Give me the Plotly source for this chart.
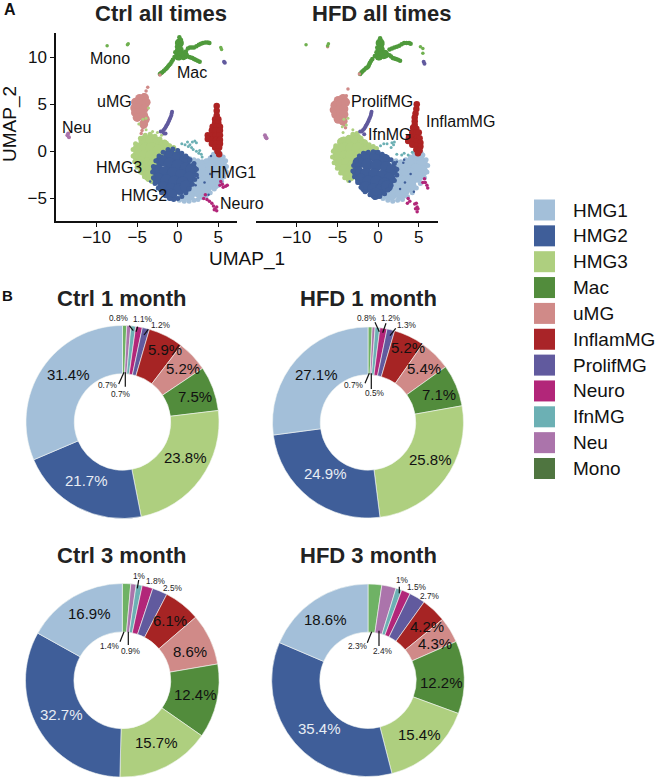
import plotly.graph_objects as go

W, H = 660, 779
FONT = "Liberation Sans"

CATEGORIES = ["HMG1", "HMG2", "HMG3", "Mac", "uMG", "InflamMG", "ProlifMG", "Neuro", "IfnMG", "Neu", "Mono"]
LEGEND_COLORS = ["#a3bfd9", "#3f5e99", "#aecf7f", "#528c3c", "#d08a88", "#a92428", "#615a9e", "#b22679", "#6cb0b4", "#ab74ab", "#4f7540"]
PIE_COLORS = ["#a3bfd9", "#3f5e99", "#aecf7f", "#528c3c", "#d08a88", "#a62424", "#615a9e", "#b22679", "#6cb0b4", "#ab74ab", "#6fb265"]
COLOR = dict(zip(CATEGORIES, PIE_COLORS))

# pie slice order, clockwise from 12 o'clock
PIE_ORDER = ["Mono", "Neu", "IfnMG", "Neuro", "ProlifMG", "InflamMG", "uMG", "Mac", "HMG3", "HMG2", "HMG1"]
CTRL_1M = [0.7, 0.7, 0.8, 1.1, 1.2, 5.9, 5.2, 7.5, 23.8, 21.7, 31.4]
HFD_1M = [0.7, 0.5, 0.8, 1.2, 1.3, 5.2, 5.4, 7.1, 25.8, 24.9, 27.1]
CTRL_3M = [1.4, 0.9, 1, 1.8, 2.5, 6.1, 8.6, 12.4, 15.7, 32.7, 16.9]
HFD_3M = [2.3, 2.4, 1, 1.5, 2.7, 4.2, 4.3, 12.2, 15.4, 35.4, 18.6]

# ---- UMAP points (dense blobs are represented by hand-read sample points) ----
C_HMG1 = [(2, -1.4), (3, -1.7), (4, -1.3), (4.8, -0.6), (5.3, -1.3), (5.4, -2.0), (4.8, -2.0), (4, -2.2), (3, -2.5), (2, -2.5), (5, -2.7), (4.2, -3), (3.2, -3.2), (2.2, -3.4), (4.4, -3.5), (3.4, -4.0), (2.4, -4.2), (1.4, -4.6), (0.7, -4.7), (1.5, -3.5), (2.8, -4.4), (1.2, -2.5)]
C_HMG1_EDGE = [(1.5, -0.8), (2, -0.9), (2.5, -1), (3, -1.1), (3.5, -1), (4, -0.7), (4.4, -0.3), (4.8, -0.1), (5.2, -0.2), (5.6, -0.6), (5.9, -1), (6, -1.6), (6, -2.2), (5.7, -2.7), (5.4, -3.2), (5, -3.6), (4.5, -4), (4, -4.4), (3.5, -4.7), (3, -4.9), (2.5, -5.1), (2, -5.2), (1.4, -5.3), (0.8, -5.3), (0.2, -5.2)]
C_HMG3 = [(-4.1, 1.1), (-3.3, 1.2), (-2.5, 0.9), (-1.7, 0.6), (-0.9, -0.1), (-4.8, 0.3), (-4, 0.3), (-3.2, 0.3), (-2.4, 0.1), (-1.6, -0.2), (-4.9, -0.5), (-4.1, -0.5), (-3.3, -0.5), (-2.5, -0.7), (-4.6, -1.2), (-3.8, -1.3), (-3, -1.4), (-4.1, -2), (-3.3, -2.1), (-3.5, -2.6)]
C_HMG3_EDGE = [(-4.6, 1.4), (-4, 1.7), (-3.4, 1.8), (-2.8, 1.6), (-2.2, 1.3), (-1.6, 1.0), (-1, 0.6), (-0.5, 0.4), (-0.1, 0.1), (-5.2, 0.8), (-5.5, 0.2), (-5.5, -0.5), (-5.3, -1.1), (-5, -1.7), (-4.6, -2.2), (-4.1, -2.7), (-3.6, -3), (-3.2, -3.2)]
C_HMG2 = [(-1, -0.4), (0, -0.6), (0.9, -1), (-2, -1), (-1, -1.3), (0, -1.5), (1, -1.8), (1.7, -1.9), (-2.5, -2), (-1.6, -2.2), (-0.6, -2.3), (0.4, -2.5), (1.4, -2.8), (-2.4, -2.9), (-1.4, -3.1), (-0.4, -3.2), (0.6, -3.3), (-1.8, -3.8), (-0.8, -4), (0.2, -4.0), (1, -3.7), (-0.8, -4.6)]
C_HMG2_EDGE = [(-1.2, 0.2), (-0.6, 0.25), (0, 0.1), (0.5, -0.2), (1, -0.5), (1.5, -0.9), (2, -1.3), (2.3, -1.9), (2.3, -2.5), (2.1, -3), (1.8, -3.5), (1.4, -4), (1, -4.4), (0.5, -4.8), (0, -5), (-0.5, -5.1), (-1, -5), (-1.5, -4.7), (-2, -4.4), (-2.4, -3.9), (-2.8, -3.4), (-3, -2.8), (-3.1, -2.2), (-3, -1.6), (-2.7, -1), (-2.3, -0.5), (-1.8, -0.1)]
C_MAC_CORE = [(0.2, 11.5), (0.2, 10.7), (0.1, 10.1), (0.8, 10.2)]
C_MAC = [(0.2, 12.1), (0.4, 11.8), (0, 11.6), (0.4, 11.3), (-0.1, 11.1), (0.3, 10.9), (-0.3, 10.5), (0.2, 10.4), (0.7, 10.3), (-0.4, 10), (0.2, 9.9), (0.7, 9.9), (1.1, 10.2), (1.0, 10.6), (1.4, 10.0), (1.8, 9.9), (2.2, 9.7), (2.7, 9.5), (1.5, 11), (2, 11), (2.6, 11.3), (3.1, 11.5), (3.7, 11.55), (3.9, 11.5), (-0.6, 9.7), (-0.9, 9.3), (-1.2, 9), (-1.5, 8.7), (-1.9, 8.4), (-2.2, 8.2), (1.25, 10.9), (1.75, 11), (2.3, 11.15), (2.85, 11.4), (3.4, 11.55), (1.6, 9.95), (2.0, 9.8), (2.45, 9.6), (-0.75, 9.5), (-1.05, 9.15), (-1.35, 8.85), (-1.7, 8.55), (-2.05, 8.3)]
C_UMG = [(-4.1, 5.7), (-4.7, 5.6), (-5.2, 5.2), (-4.5, 5.1), (-3.9, 5.2), (-5.3, 4.6), (-4.7, 4.6), (-4.1, 4.6), (-5.2, 4.1), (-4.6, 4.1), (-5, 3.6), (-4.2, 3.8), (-4, 3.4), (-4.2, 2.9)]
C_UMG_DOTS = [(-3.7, 6.8), (-3.9, 6.4), (-2.2, 8.1), (-4.2, 6), (-4.3, 2.5), (-4.4, 2.2), (-4.5, 1.9), (-4.1, 2.6)]
C_INFLAM = [(4.8, 4.8), (4.8, 4.3), (4.8, 3.8), (4.6, 3.4), (5, 3.4), (4.6, 3), (5, 3), (4.3, 2.6), (4.8, 2.6), (5.2, 2.6), (4.2, 2.2), (4.7, 2.2), (5.2, 2.2), (3.7, 1.7), (4.2, 1.7), (4.7, 1.7), (5.2, 1.7), (3.7, 1.3), (4.2, 1.2), (4.7, 1.2), (5.2, 1.2), (4.2, 0.8), (4.7, 0.8), (5.2, 0.8), (4.6, 0.4), (5.1, 0.4), (4.9, 0), (5.1, -0.3)]
C_PROLIF = [(-0.7, 4.2), (-0.75, 4), (-0.8, 3.8), (-0.9, 3.6), (-1, 3.4), (-1.1, 3.2), (-1.2, 3), (-1.3, 2.85), (-1.4, 2.7), (-1.5, 2.55), (-1.6, 2.4), (-1.75, 2.25), (-1.9, 2.1), (-2.1, 2.1), (-1.5, 1.9), (-1.7, 1.9), (5.8, 9.4), (5.7, 9.5)]
C_NEURO = [(5.3, -3.2), (5.5, -3.5), (5.9, -3.7), (5.6, -3.8), (6.1, -3.6), (5.2, -3.6), (3.2, -5), (3.6, -5.1), (3.9, -5.3), (4.2, -5.5), (4.4, -5.8), (4.6, -6.1), (4.8, -6.3), (4.8, -5.9), (4.5, -6.2), (3.4, -4.6)]
C_IFN = [(0.5, 0.8), (0.9, 0.7), (1.2, 1), (1.5, 0.7), (1.8, 1), (2.1, 1.1), (2.3, 0.9), (1.3, 0.5), (1.7, 0.4), (1.9, 0.2), (2.3, 0), (2.6, -0.2), (2.9, -0.3), (2.7, 0.1), (3, -0.6)]
C_NEU = [(-13.5, 1.9), (-13.4, 1.5), (-13.6, 1.7)]
C_MONO = [(-8.7, 11.2), (-6.2, 11.3), (-6.1, 11.4), (5.3, 11), (5.4, 10.8)]
C_STRAY_GREEN = [(-4.3, 3.4), (-3.9, 3.5), (-3.6, 4.6), (-4.8, 2.9), (-3.9, 2.3), (-3.1, 2.1), (-2.5, 2), (-2, 1.7)]
C_STRAY_BLUE = [(3.3, -3.3), (4, -2.4), (2.2, -3.6), (3.8, -4.6), (4.1, -0.5), (2.5, -2.8), (-3.4, -3.2)]

H_HMG1 = [(2.2, -1.5), (3.2, -1.7), (4.2, -1.1), (5, -0.8), (5.4, -1.4), (5.4, -2.1), (4.6, -1.9), (3.8, -2.3), (3, -2.5), (2.2, -2.5), (4.8, -2.7), (4, -3.1), (3.2, -3.2), (2.4, -3.4), (4, -3.7), (3.3, -4.0), (2.4, -4.3), (1.6, -4.6), (0.8, -4.5), (1.5, -3.7), (2.8, -4.5), (1.2, -2.5), (4.9, -0.3)]
H_HMG1_EDGE = [(2.2, -1), (2.8, -1.1), (3.4, -0.9), (4, -0.6), (4.5, -0.3), (5, -0.1), (5.5, -0.4), (5.9, -0.9), (6.1, -1.5), (6, -2.2), (5.7, -2.8), (5.2, -3.4), (4.7, -3.9), (4.2, -4.4), (3.6, -4.8), (3, -5.1), (2.4, -5.2), (1.8, -5.3), (1.2, -5.2), (0.6, -5)]
H_HMG3 = [(-4.3, 0.9), (-3.5, 1.1), (-2.7, 1.3), (-1.9, 0.7), (-1.1, 0), (-4.9, 0.1), (-4.1, 0.3), (-3.3, 0.3), (-2.5, 0.3), (-1.7, -0.1), (-4.9, -0.6), (-4.1, -0.5), (-3.3, -0.5), (-2.5, -0.6), (-4.6, -1.3), (-3.8, -1.3), (-3, -1.4), (-4.1, -2), (-3.3, -2.1), (-3.5, -2.6)]
H_HMG3_EDGE = [(-4.7, 1.1), (-4.2, 1.3), (-3.6, 1.5), (-3.1, 1.8), (-2.6, 1.9), (-2.1, 1.4), (-1.6, 1), (-1.1, 0.7), (-0.6, 0.5), (-0.2, 0.3), (-5.2, 0.6), (-5.5, 0), (-5.6, -0.6), (-5.4, -1.2), (-5, -1.8), (-4.6, -2.3), (-4.1, -2.8), (-3.6, -3.1)]
H_HMG2 = [(-1.4, -0.6), (-0.3, -0.5), (0.8, -0.9), (-2.4, -1.2), (-1.3, -1.4), (-0.2, -1.5), (1, -1.7), (1.7, -2), (-2.5, -2.2), (-1.5, -2.4), (-0.5, -2.4), (0.5, -2.6), (1.4, -2.9), (-2.1, -3), (-1.2, -3.2), (-0.2, -3.2), (0.8, -3.4), (-1.5, -3.8), (-0.6, -4), (0.3, -4.1), (1.1, -3.7), (-0.3, -4.5)]
H_HMG2_EDGE = [(-2.3, -0.5), (-1.8, -0.2), (-1.2, -0.1), (-0.6, -0.05), (0, -0.1), (0.5, -0.3), (1, -0.6), (1.6, -0.9), (2, -1.3), (2.3, -1.9), (2.3, -2.5), (2, -3.1), (1.6, -3.6), (1.2, -4.1), (0.8, -4.5), (0.2, -4.8), (-0.4, -4.9), (-1, -4.6), (-1.6, -4.3), (-2.1, -3.8), (-2.5, -3.3), (-2.9, -2.7), (-3.1, -2.1), (-3, -1.5), (-2.7, -1)]
H_MAC_CORE = [(0.25, 11.5), (0.25, 10.8), (0.1, 10.1), (0.8, 10.3)]
H_MAC = [(0.25, 12.0), (0.35, 11.7), (0.1, 11.4), (0.5, 11.3), (-0.1, 11), (0.5, 10.9), (-0.2, 10.5), (0.3, 10.4), (0.8, 10.5), (-0.4, 10.1), (0.1, 9.9), (0.7, 10), (1.1, 10.2), (1.4, 10.2), (1.8, 9.9), (2.2, 9.8), (2.7, 9.6), (1.4, 10.8), (2, 11), (2.6, 11.2), (3.2, 11.5), (3.8, 11.5), (4, 11.4), (-0.7, 9.8), (-1, 9.4), (-1.2, 9), (-1.5, 8.8), (-1.9, 8.5), (-2.2, 8.2), (1.7, 10.9), (2.3, 11.1), (2.9, 11.35), (3.5, 11.5), (1.6, 10.05), (2, 9.85), (2.45, 9.7), (-0.85, 9.6), (-1.1, 9.2), (-1.35, 8.9), (-1.7, 8.65), (-2.05, 8.35)]
H_UMG = [(-4.3, 5.6), (-4.9, 5.4), (-5.3, 4.9), (-4.6, 5), (-4, 5.2), (-5.4, 4.4), (-4.8, 4.4), (-4.2, 4.5), (-5.2, 3.9), (-4.6, 3.9), (-4.9, 3.4), (-4.2, 3.9), (-4.3, 3.2)]
H_UMG_DOTS = [(-3.7, 6.6), (-3.9, 5.9), (-2.3, 8.2), (-6.2, 11.1), (-4.2, 2.8), (-4, 2.5)]
H_INFLAM = [(4.75, 5.0), (4.7, 4.5), (4.6, 4), (4.5, 3.6), (4.5, 3.2), (4.5, 2.8), (4.3, 2.5), (4.7, 2.4), (4.2, 2), (4.7, 2), (5, 2), (3.8, 1.5), (4.3, 1.5), (4.8, 1.5), (5.1, 1.4), (3.7, 1.1), (4.2, 1.1), (4.7, 1), (5.2, 0.9), (4.2, 0.7), (4.7, 0.6), (5.2, 0.5), (4.7, 0.2), (5.1, 0.1), (4.9, -0.2)]
H_PROLIF = [(-0.8, 4.2), (-0.85, 4), (-0.9, 3.8), (-1, 3.6), (-1.1, 3.4), (-1.2, 3.2), (-1.3, 3), (-1.4, 2.85), (-1.5, 2.7), (-1.6, 2.55), (-1.7, 2.4), (-1.85, 2.25), (-2, 2.1), (-2.2, 2.1), (-1.7, 1.8), (5.6, 9.5), (5.7, 9.3)]
H_NEURO = [(5.7, -2.9), (5.8, -3.3), (6, -3.6), (5.5, -3.3), (6.1, -3.9), (3.7, -5), (3.9, -5.3), (3.6, -5.5), (4.7, -5.5), (4.8, -5.9), (4.6, -6.1), (4.8, -6.4), (4.9, -6.1), (4.5, -5.6)]
H_IFN = [(0.3, 0.6), (0.7, 0.8), (1.1, 0.8), (1.7, 0.9), (1.9, 0.7), (2, 1), (1.6, 0.4), (2.3, -0.3), (2.9, -0.4), (3.2, -0.2), (3.7, -0.4), (4.2, -0.1)]
H_NEU = [(-13.9, 1.7), (-13.7, 1.4), (-13.8, 1.5)]
H_MONO = [(-8.85, 11.3), (-6.1, 11.4), (-6.2, 11.2), (5.2, 11.1), (5.5, 10.4), (5.5, 10.9)]
H_STRAY_GREEN = [(-4.2, 3.4), (-3.7, 3.5), (-4.4, 2.6), (-3.9, 2.8), (-4.3, 2), (-3.1, 2.3), (-2.6, 1.8)]
H_STRAY_BLUE = [(3.1, -1.2), (2.3, -1.1), (3.3, -3.3), (4, -2.4), (2.7, -4), (3.2, -0.9), (4.4, -4.3), (-3.5, -3.2)]

# ---- layout helpers (pixels of the 660x779 page -> paper fractions) ----
def px(x):
    return x / W
def py(y):
    return 1 - y / H

X_RANGE = [-15.0, 7.3]
Y_RANGE = [-7.39, 12.55]

fig = go.Figure()

def add_pts(panel, pts, color, size, name):
    xs = [p[0] for p in pts]
    ys = [p[1] for p in pts]
    fig.add_trace(go.Scatter(x=xs, y=ys, mode="markers", name=name, showlegend=False,
                             xaxis="x" if panel == 0 else "x2", yaxis="y" if panel == 0 else "y2",
                             marker=dict(color=color, size=size, line=dict(width=0))))

def add_panel(panel, d):
    add_pts(panel, d["HMG1"], COLOR["HMG1"], 12, "HMG1")
    add_pts(panel, d["HMG1e"], COLOR["HMG1"], 5, "HMG1")
    add_pts(panel, d["HMG3"], COLOR["HMG3"], 12, "HMG3")
    add_pts(panel, d["HMG3e"], COLOR["HMG3"], 5, "HMG3")
    add_pts(panel, d["HMG2"], COLOR["HMG2"], 12, "HMG2")
    add_pts(panel, d["HMG2e"], COLOR["HMG2"], 5, "HMG2")
    add_pts(panel, d["Macc"], "#4f9a3c", 9, "Mac")
    add_pts(panel, d["Mac"], "#4f9a3c", 4.5, "Mac")
    add_pts(panel, d["uMG"], COLOR["uMG"], 9, "uMG")
    add_pts(panel, d["uMG2"], COLOR["uMG"], 3.5, "uMG")
    add_pts(panel, d["Inflam"], "#ad2323", 6.5, "InflamMG")
    add_pts(panel, d["Prolif"], COLOR["ProlifMG"], 4, "ProlifMG")
    add_pts(panel, d["Neuro"], COLOR["Neuro"], 3.5, "Neuro")
    add_pts(panel, d["Ifn"], COLOR["IfnMG"], 3, "IfnMG")
    add_pts(panel, d["Neu"], COLOR["Neu"], 4, "Neu")
    add_pts(panel, d["Mono"], "#6fb04f", 3.5, "Mono")
    add_pts(panel, d["gd"], COLOR["HMG3"], 3, "HMG3")
    add_pts(panel, d["bd"], COLOR["HMG2"], 2.5, "HMG2")

add_panel(0, dict(HMG1=C_HMG1, HMG1e=C_HMG1_EDGE, HMG3=C_HMG3, HMG3e=C_HMG3_EDGE, HMG2=C_HMG2, HMG2e=C_HMG2_EDGE,
                  Macc=C_MAC_CORE, Mac=C_MAC, uMG=C_UMG, uMG2=C_UMG_DOTS, Inflam=C_INFLAM,
                  Prolif=C_PROLIF, Neuro=C_NEURO, Ifn=C_IFN, Neu=C_NEU, Mono=C_MONO, gd=C_STRAY_GREEN, bd=C_STRAY_BLUE))
add_panel(1, dict(HMG1=H_HMG1, HMG1e=H_HMG1_EDGE, HMG3=H_HMG3, HMG3e=H_HMG3_EDGE, HMG2=H_HMG2, HMG2e=H_HMG2_EDGE,
                  Macc=H_MAC_CORE, Mac=H_MAC, uMG=H_UMG, uMG2=H_UMG_DOTS, Inflam=H_INFLAM,
                  Prolif=H_PROLIF, Neuro=H_NEURO, Ifn=H_IFN, Neu=H_NEU, Mono=H_MONO, gd=H_STRAY_GREEN, bd=H_STRAY_BLUE))

# ---- pies ----
pie_colors = [COLOR[c] for c in PIE_ORDER]
PIES = [
    ("Ctrl 1 month", CTRL_1M, 122.5, 422.0, 96.5),
    ("HFD 1 month", HFD_1M, 368.0, 422.5, 95.5),
    ("Ctrl 3 month", CTRL_3M, 122.3, 680.3, 96.8),
    ("HFD 3 month", HFD_3M, 368.0, 680.3, 96.3),
]
for name, vals, cx, cy, r in PIES:
    fig.add_trace(go.Pie(labels=PIE_ORDER, values=vals, hole=0.5, sort=False, direction="clockwise", rotation=0,
                         textinfo="none", showlegend=False, name=name,
                         marker=dict(colors=pie_colors, line=dict(color="#f4f6f4", width=0.6)),
                         domain=dict(x=[px(cx - r), px(cx + r)], y=[py(cy + r), py(cy - r)])))

# ---- text ----
ann = []
def text(s, x, y, size, color="#111111", bold=False, anchor="center"):
    ann.append(dict(text=f"<b>{s}</b>" if bold else s, x=px(x), y=py(y), xref="paper", yref="paper",
                    xanchor=anchor, yanchor="middle", showarrow=False,
                    font=dict(family=FONT, size=size, color=color)))

text("Ctrl all times", 161, 13, 22, "#222222", True)
text("HFD all times", 381, 13, 22, "#222222", True)
text("A", 10, 10, 16, "#111111", True)
text("B", 7, 296, 15, "#111111", True)
text("UMAP_1", 246.5, 259, 19)
ann.append(dict(text="UMAP_2", x=px(10), y=py(124), xref="paper", yref="paper", textangle=-90, showarrow=False,
                xanchor="center", yanchor="middle", font=dict(family=FONT, size=19, color="#111111")))

UMAP_LABELS = [("Mono", 110, 58), ("Mac", 191.5, 72.5), ("uMG", 114, 101), ("Neu", 76, 127.5), ("HMG3", 118.5, 167),
               ("HMG2", 143.5, 195), ("HMG1", 233.5, 172.5), ("Neuro", 241.5, 203),
               ("ProlifMG", 382, 101.5), ("IfnMG", 390, 134), ("InflamMG", 460, 121)]
for s, x, y in UMAP_LABELS:
    text(s, x, y, 16)

# pie slice label positions (page pixels), same order as PIE_ORDER
BIG_POS = [
    [(165, 349.3), (183.3, 368.3), (195, 396.7), (185.7, 457.3), (86.7, 480), (68.3, 374)],
    [(407.7, 347.7), (424.3, 368.3), (439, 394.3), (430.7, 459), (325.3, 473.3), (316.7, 374.3)],
    [(170, 620), (190, 651.7), (195, 694), (156, 742.3), (61, 714.3), (89.3, 613.7)],
    [(426.7, 626), (435, 643.3), (441, 682.7), (419, 734.3), (319.3, 728.3), (325, 619.3)],
]
SMALL_POS = [
    [(108, 385.3), (121, 393.7), (119, 318.3), (142.7, 318.7), (161.3, 325)],
    [(354.3, 385.3), (375.3, 393.3), (366.7, 318.3), (390.7, 318.3), (406.7, 325)],
    [(110, 645.7), (131, 651), (139.3, 575.7), (155.7, 581.3), (173.3, 587.7)],
    [(357.7, 646), (383.3, 651.3), (402.7, 580), (416.5, 587), (430, 596)],
]
LEADERS = [
    [(118.7, 384, 124, 372.3), (125.3, 372.3, 125.3, 386.7), (129.3, 325.7, 133.3, 330.7), (137.7, 326.7, 136, 331.7), (148.3, 329.3, 144, 335)],
    [(365, 383.3, 369.3, 373.3), (371.3, 373.3, 371.3, 389), (375, 322.3, 379.3, 331.7), (386, 323.3, 382.7, 332.7), (395.7, 328.3, 390, 335.7)],
    [(120, 641.7, 124, 631.7), (128.3, 631.7, 128.3, 645), (138.7, 580, 137.3, 588.3)],
    [(367.3, 642.7, 371.7, 631.7), (379, 630.7, 379, 646), (399.3, 586.7, 399.3, 593.3)],
]
TITLE_X = [122.3, 368.3, 122.3, 368.3]
TITLE_Y = [298, 298, 555, 555]

shapes = []
for i, (name, vals, cx, cy, r) in enumerate(PIES):
    text(name, TITLE_X[i], TITLE_Y[i], 22, "#222222", True)
    for v, (x, y) in zip(vals[:5], SMALL_POS[i]):
        text(f"{v:g}%", x, y, 8.3, "#222222")
    for j, (v, (x, y)) in enumerate(zip(vals[5:], BIG_POS[i])):
        text(f"{v:g}%", x, y, 15, "#e8edf4" if PIE_ORDER[5 + j] == "HMG2" else "#111111")
    for x0, y0, x1, y1 in LEADERS[i]:
        shapes.append(dict(type="line", xref="paper", yref="paper", x0=px(x0), y0=py(y0), x1=px(x1), y1=py(y1),
                           line=dict(color="#111111", width=1.2)))

# ---- legend ----
LEG_X0, LEG_SIZE, LEG_TOP, LEG_STEP, LEG_TX = 534, 21, 199.5, 25.85, 570.5
for i, (c, col) in enumerate(zip(CATEGORIES, LEGEND_COLORS)):
    y0 = LEG_TOP + i * LEG_STEP
    shapes.append(dict(type="rect", xref="paper", yref="paper", x0=px(LEG_X0), x1=px(LEG_X0 + LEG_SIZE),
                       y0=py(y0), y1=py(y0 + LEG_SIZE), fillcolor=col, line=dict(width=0)))
    text(c, LEG_TX, y0 + LEG_SIZE / 2, 19, anchor="left")

axis_common = dict(showgrid=False, zeroline=False, showline=True, linecolor="#111111", linewidth=1.5, ticks="outside",
                   ticklen=4, tickwidth=1.3, tickcolor="#111111", tickfont=dict(family=FONT, size=17, color="#111111"))
fig.update_layout(
    width=W, height=H, margin=dict(l=0, r=0, t=0, b=0), autosize=False,
    paper_bgcolor="white", plot_bgcolor="white", showlegend=False, hovermode=False,
    font=dict(family=FONT),
    xaxis=dict(domain=[px(56), px(237)], range=X_RANGE, anchor="y", tickvals=[-10, -5, 0, 5], ticklabelstandoff=-4, **axis_common),
    yaxis=dict(domain=[py(221), py(33)], range=Y_RANGE, anchor="x", tickvals=[-5, 0, 5, 10], **axis_common),
    xaxis2=dict(domain=[px(256), px(437.5)], range=X_RANGE, anchor="y2", tickvals=[-10, -5, 0, 5], ticklabelstandoff=-4, **axis_common),
    yaxis2=dict(domain=[py(221), py(33)], range=Y_RANGE, anchor="x2", visible=False),
    annotations=ann, shapes=shapes,
)

fig.write_html("out.html", post_script="document.body.style.margin='0';", config={"displayModeBar": False})
